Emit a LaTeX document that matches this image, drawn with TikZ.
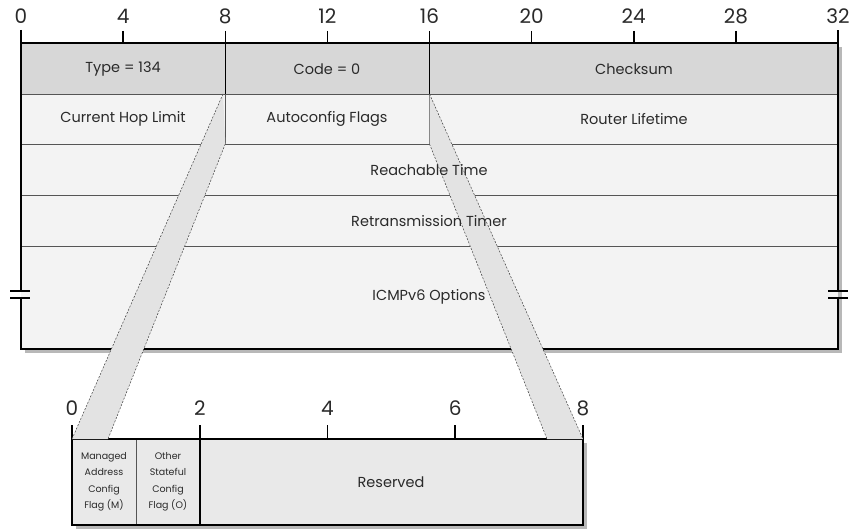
\documentclass[tikz,border=0pt]{standalone}
\usepackage{fontspec}
\setmainfont{Poppins}
\usetikzlibrary{positioning,calc}
\definecolor{hdrgray}{HTML}{D7D7D7}
\definecolor{rowgray}{HTML}{F3F3F3}
\definecolor{flaggray}{HTML}{E9E9E9}
\definecolor{stripgray}{HTML}{E3E3E3}
\definecolor{linegray}{HTML}{555555}
\definecolor{inkgray}{HTML}{2A2A2A}

\begin{document}
\begin{tikzpicture}[x=1pt,y=-1pt,
    frame/.style={line width=1.8pt, black},
    rule/.style={line width=0.9pt, linegray},
    tick/.style={line width=1.6pt, black},
    shadow/.style={fill=black!28},
    bitnum/.style={font=\fontsize{20}{20}\selectfont, inner sep=0pt, text=inkgray},
    field/.style={font=\fontsize{14.5}{16}\selectfont, inner sep=0pt, text=inkgray},
    flag/.style={font=\fontsize{9.5}{16.5}\selectfont, align=center, inner sep=0pt, text=inkgray},
    stripedge/.style={draw=black!75, line width=0.5pt, dash pattern=on 2pt off 1.5pt}
  ]
  \useasboundingbox (0,0) rectangle (851,529);

  % Top header: 32-bit words
  \fill[shadow] (25,47) rectangle (842,353);
  \fill[hdrgray] (21,43) rectangle (838,94);
  \fill[rowgray] (21,94) rectangle (838,349);
  \foreach \y in {94,144,195,246}
    \draw[rule] (21,\y) -- (838,\y);
  \draw[rule] (225.3,94) -- (225.3,144);
  \draw[rule] (429.5,94) -- (429.5,144);
  \draw[tick] (225.3,31) -- (225.3,94);
  \draw[tick] (429.5,31) -- (429.5,94);
  \foreach \b in {4,12,20,24,28}
    \draw[tick] ({21+25.53*\b},31) -- ({21+25.53*\b},43);
  \draw[frame] (21,43) -- (838,43);
  \draw[frame] (21,30) -- (21,291);
  \draw[frame] (21,298) -- (21,349) -- (838,349) -- (838,298);
  \draw[frame] (838,291) -- (838,30);
  % break marks
  \foreach \y in {291,298} {
    \draw[line width=1.3pt] (10,\y) -- (30,\y);
    \draw[line width=1.3pt] (828,\y) -- (848,\y);
  }

  % Bottom: flags byte
  \fill[shadow] (76,443) rectangle (587,529);
  \fill[flaggray] (72,439) rectangle (583,525);
  \draw[rule] (136,439) -- (136,525);
  \draw[tick] (200,425) -- (200,525);
  \foreach \b in {4,6}
    \draw[tick] ({72+63.875*\b},425) -- ({72+63.875*\b},439);
  \draw[frame] (72,425) -- (72,525) -- (583,525) -- (583,425);
  \draw[frame] (72,439) -- (583,439);

  % Zoom strips from Autoconfig Flags
  \coordinate (fl1) at (223,94);
  \coordinate (fl2) at (225.3,144);
  \coordinate (fr1) at (429.5,94);
  \coordinate (fr2) at (429.5,144);
  \coordinate (bl1) at (72,439);
  \coordinate (bl2) at (108,439);
  \coordinate (br1) at (583,439);
  \coordinate (br2) at (547,439);
  \fill[stripgray] (fl1) -- (bl1) -- (bl2) -- (fl2) -- cycle;
  \fill[stripgray] (fr1) -- (br1) -- (br2) -- (fr2) -- cycle;
  \draw[stripedge] (fl1) -- (bl1);
  \draw[stripedge] (fl2) -- (bl2);
  \draw[stripedge] (fr1) -- (br1);
  \draw[stripedge] (fr2) -- (br2);

  % Bit numbers
  \foreach \b in {0,4,...,32}
    \node[bitnum] (t\b) at ({21+25.53*\b},16) {\b};
  \foreach \b in {0,2,...,8}
    \node[bitnum] (s\b) at ({72+63.875*\b},408) {\b};

  % Field labels
  \node[field] (ty)    at (123,69)  {Type = 134};
  \node[field] (code)  at (327,69)  {Code = 0};
  \node[field] (csum)  at (634,69)  {Checksum};
  \node[field] (hop)   at (123,119) {Current Hop Limit};
  \node[field] (flags) at (327,119) {Autoconfig Flags};
  \node[field] (life)  at (634,119) {Router Lifetime};
  \node[field] (reach) at (429,170) {Reachable Time};
  \node[field] (retx)  at (429,221) {Retransmission Timer};
  \node[field] (opts)  at (429,297) {ICMPv6 Options};
  \node[flag]  (mflag) at (104,482) {Managed\\Address\\Config\\Flag (M)};
  \node[flag]  (oflag) at (168,482) {Other\\Stateful\\Config\\Flag (O)};
  \node[field] (resv)  at (391,482) {Reserved};
\end{tikzpicture}
\end{document}
